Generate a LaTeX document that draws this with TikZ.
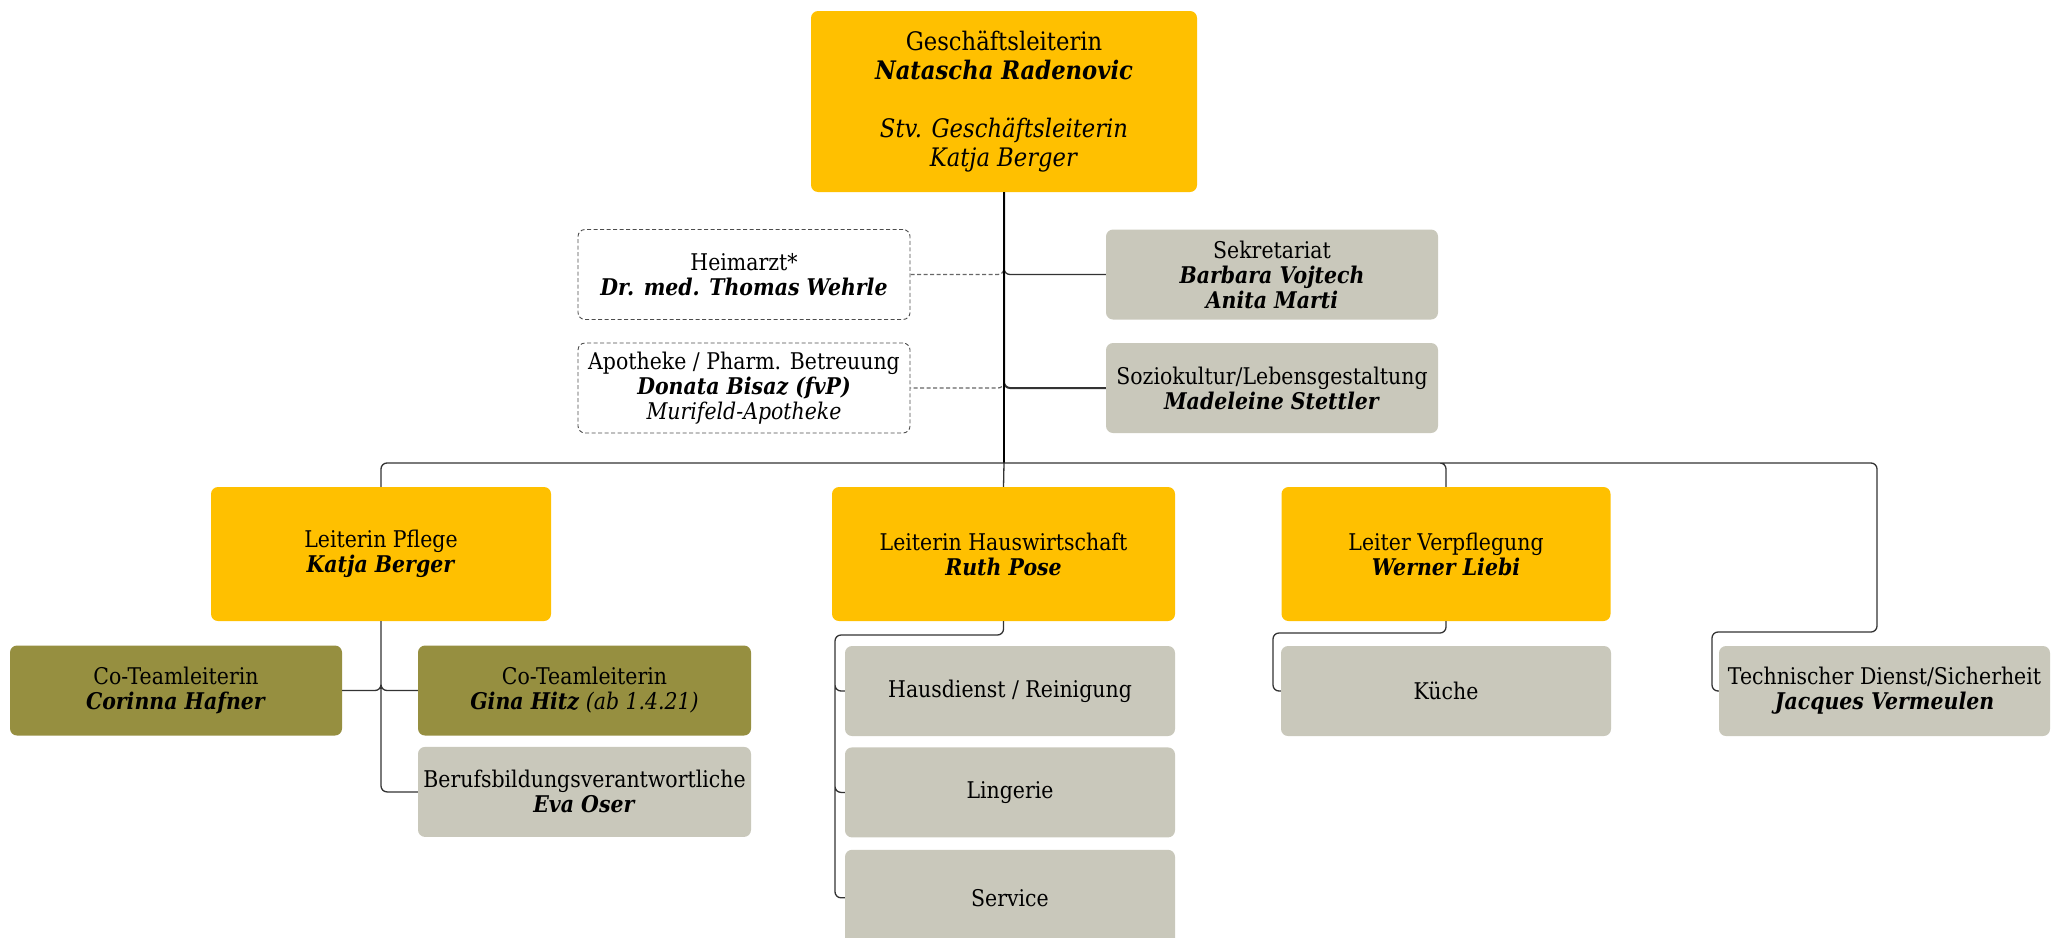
\documentclass[tikz,border=0pt]{standalone}
\usepackage{fontspec}
\setmainfont[FakeStretch=0.89]{DejaVu Serif}
\usepackage{xcolor}
\usepackage{tikz}
\usetikzlibrary{positioning}

\definecolor{gold}{HTML}{FFC000}
\definecolor{oliv}{HTML}{968F40}
\definecolor{stone}{HTML}{C9C8BB}
\newcommand{\nm}[1]{\textbf{\textit{#1}}}

\begin{document}
\begin{tikzpicture}[x=1pt,y=-1pt,node distance=11pt,
  every node/.style={font=\fontsize{23}{25}\selectfont, align=center, inner sep=0pt}]
 				 \tikzstyle{box}=[rounded corners=7pt, minimum width=332pt, minimum height=90pt]
 				 \tikzstyle{lead}=[box, fill=gold, minimum height=134pt]
 				 \tikzstyle{coteam}=[box, fill=oliv]
 				 \tikzstyle{unit}=[box, fill=stone]
 				 \tikzstyle{staff}=[box, draw=black!70, line width=0.9pt, dash pattern=on 4pt off 2.5pt]
 				 \tikzstyle{link}=[draw=black!80, line width=1.3pt, rounded corners=6pt]
 				 \tikzstyle{stafflink}=[draw=black!60, line width=1.2pt, dash pattern=on 4pt off 2.5pt, rounded corners=6pt]
						\useasboundingbox (0,0) rectangle (2052,937);

						\node[box, fill=gold, minimum width=386pt, minimum height=181pt,
						  font=\fontsize{25.5}{29}\selectfont] (GL) at (1004,101.5)
						  {Geschäftsleiterin\\\nm{Natascha Radenovic}\\[29pt]\textit{Stv. Geschäftsleiterin}\\\textit{Katja Berger}};

						\node[staff] (HA) at (744,274.5) {Heimarzt*\\\nm{Dr. med. Thomas Wehrle}};
						\node[staff] (AP) at (744,388) {Apotheke / Pharm. Betreuung\\\nm{Donata Bisaz (fvP)}\\\textit{Murifeld-Apotheke}};
						\node[unit] (SK) at (1272,274.5) {Sekretariat\\\nm{Barbara Vojtech}\\\nm{Anita Marti}};
						\node[unit] (SZ) at (1272,388) {Soziokultur/Lebensgestaltung\\\nm{Madeleine Stettler}};

						\node[lead, minimum width=340pt] (PF) at (381,554) {Leiterin Pflege\\\nm{Katja Berger}};
						\node[lead, minimum width=343pt] (HW) at (1003.5,554) {Leiterin Hauswirtschaft\\\nm{Ruth Pose}};
						\node[lead, minimum width=329pt] (VP) at (1446,554) {Leiter Verpflegung\\\nm{Werner Liebi}};

						\node[coteam] (CT1) at (176,690.5) {Co-Teamleiterin\\\nm{Corinna Hafner}};
						\node[coteam, minimum width=333pt] (CT2) at (584.5,690.5) {Co-Teamleiterin\\\nm{Gina Hitz} \textit{(ab 1.4.21)}};
						\node[unit, minimum width=333pt] (BB) [below=11pt of CT2] {Berufsbildungsverantwortliche\\\nm{Eva Oser}};

						\node[unit, minimum width=330pt] (HD) at (1010,691) {Hausdienst / Reinigung};
						\node[unit, minimum width=330pt] (LI) [below=11pt of HD] {Lingerie};
						\node[unit, minimum width=330pt, minimum height=96pt] (SV) [below=12pt of LI] {Service};

						\node[unit, minimum width=330pt] (KU) at (1446,691) {Küche};
						\node[unit, minimum width=331pt] (TD) at (1884.5,691) {Technischer Dienst/Sicherheit\\\nm{Jacques Vermeulen}};

						\coordinate (bus) at (1004,463);
						\coordinate (tdbend) at (1877,632);
						\coordinate (tdend) at (1712,691);
						\coordinate (hwbend) at (835,635);
						\coordinate (vpbend) at (1273,633);

						\path[stafflink]
							(GL.south) |- (HA.east)
							(GL.south) |- (AP.east);
						\path[link]
							(GL.south) |- (SK.west);
						\path[link, line width=2pt]
							(GL.south) |- (SZ.west);
						\path[link, draw=black, line width=2.2pt]
							(GL.south) -- (bus);
						\path[link]
							(bus) -| (PF.north)
							(bus) -- (HW.north)
							(bus) -| (VP.north)
							(bus) -| (tdbend) -| (tdend) -- (TD.west);
						\path[link]
							(PF.south) |- (CT1.east)
							(PF.south) |- (CT2.west)
							(PF.south) |- (BB.west)
							(HW.south) |- (hwbend) |- (HD.west)
							(HW.south) |- (hwbend) |- (LI.west)
							(HW.south) |- (hwbend) |- (SV.west)
							(VP.south) |- (vpbend) |- (KU.west);

 				\end{tikzpicture}
\end{document}
